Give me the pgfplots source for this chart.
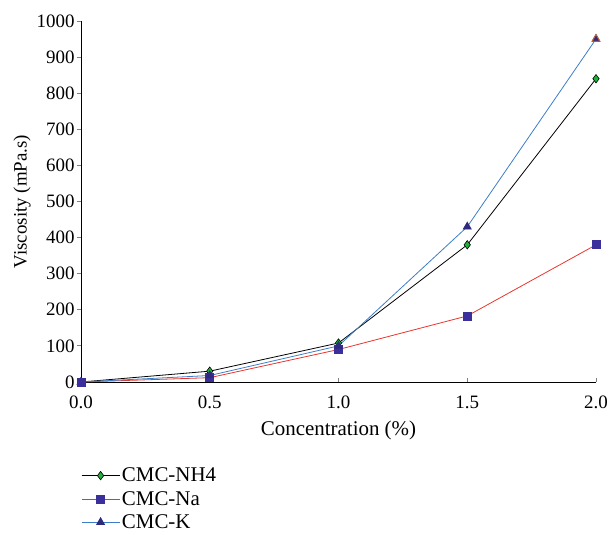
\documentclass[border=0pt]{standalone}
\usepackage{fontspec}
\setmainfont{Liberation Serif}
\usepackage{pgfplots}
\pgfplotsset{compat=1.18}
\definecolor{redl}{HTML}{E8352C}
\definecolor{bluel}{HTML}{3C7DC8}
\definecolor{sqfill}{HTML}{3B2F9C}
\definecolor{trifill}{HTML}{2E2A7E}
\definecolor{grn}{HTML}{1DB33A}
\definecolor{orng}{HTML}{D9661F}
\begin{document}
\begin{tikzpicture}[x=1bp,y=1bp]
\path[use as bounding box] (-81,-153) rectangle (529,382);
\begin{axis}[
  at={(0,0)}, anchor=south west,
  scale only axis, width=515bp, height=361bp,
  xmin=0, xmax=2, ymin=0, ymax=1000,
  axis lines*=left,
  axis line style={line width=0.8pt},
  clip=false,
  xtick={0,0.5,1,1.5,2},
  ytick={0,100,...,1000},
  xtick style={line width=0.8pt, yshift=4bp},
  ytick style={line width=0.8pt},
  tick align=outside,
  major tick length=4bp,
  /pgf/number format/assume math mode=true,
  xticklabel style={/pgf/number format/fixed, /pgf/number format/fixed zerofill, /pgf/number format/precision=1, yshift=-6bp},
  yticklabel style={/pgf/number format/fixed, /pgf/number format/1000 sep={}, xshift=1bp},
  ticklabel style={font=\fontsize{19}{21}\selectfont},
  xlabel={Concentration (\%)},
  ylabel={Viscosity (mPa.s)},
  xlabel style={font=\fontsize{21}{23}\selectfont, at={(axis description cs:0.5,0)}, yshift=-48bp, anchor=center},
  ylabel style={font=\fontsize{19}{21}\selectfont, at={(axis description cs:0,0.5)}, anchor=center, yshift=59bp},
  legend style={at={(0,-0.232)}, anchor=north west, draw=none, fill=none,
    font=\fontsize{21}{23}\selectfont, row sep=4bp, inner sep=0pt},
  legend cell align=left,
  legend image code/.code={\draw[mark repeat=2,mark phase=2,#1] plot coordinates {(0bp,0bp) (19bp,0bp) (38bp,0bp)};},
]
\addplot[black, line width=0.8pt, mark=diamond*, mark size=4.2bp, mark options={fill=grn, draw=black, line width=0.6pt}]
  coordinates {(0,0) (0.5,30) (1,108) (1.5,380) (2,840)};
\addlegendentry{CMC-NH4}
\addplot[redl, line width=0.8pt, mark=square*, mark size=4bp, mark options={fill=sqfill, draw=sqfill}]
  coordinates {(0,0) (0.5,12) (1,90) (1.5,183) (2,380)};
\addlegendentry{CMC-Na}
\addplot[bluel, line width=0.8pt, mark=triangle*, mark size=4.5bp, mark options={fill=trifill, draw=trifill}]
  coordinates {(0,0) (0.5,18) (1,100) (1.5,430) (2,950)};
\addlegendentry{CMC-K}
\addplot[forget plot, only marks, mark=triangle*, mark size=4.5bp, mark options={fill=trifill, draw=orng, line width=0.8pt}]
  coordinates {(2,950)};
\addplot[forget plot, only marks, mark=square*, mark size=4bp, mark options={fill=sqfill, draw=sqfill}]
  coordinates {(0,0)};
\end{axis}
\end{tikzpicture}
\end{document}
